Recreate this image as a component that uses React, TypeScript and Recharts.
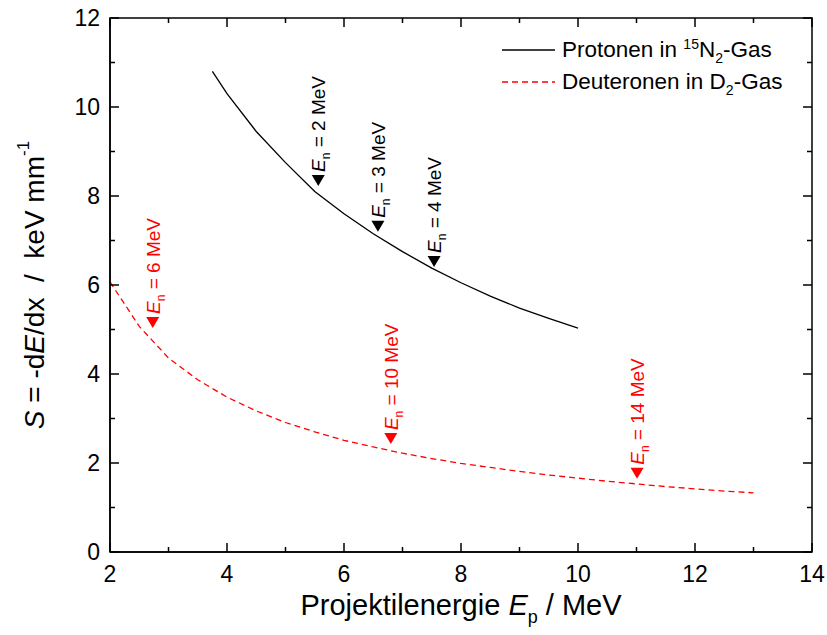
import React from 'react';
import { ComposedChart, Line, Scatter, XAxis, YAxis, ReferenceArea } from 'recharts';

const FONT = '"Liberation Sans", Arial, sans-serif';

// Protonen in 15N2-Gas
const protonEnergy = [3.75, 4, 4.5, 5, 5.5, 6, 6.5, 7, 7.5, 8, 8.5, 9, 9.5, 10];
const protonStopping = [10.8, 10.3, 9.45, 8.75, 8.1, 7.6, 7.15, 6.75, 6.38, 6.05, 5.75, 5.48, 5.25, 5.03];

// Deuteronen in D2-Gas
const deuteronEnergy = [2, 2.5, 3, 3.5, 4, 4.5, 5, 5.5, 6, 6.5, 7, 7.5, 8, 8.5, 9, 9.5, 10, 10.5, 11, 11.5, 12, 12.5, 13];
const deuteronStopping = [6.07, 5.07, 4.36, 3.87, 3.48, 3.17, 2.91, 2.7, 2.51, 2.36, 2.22, 2.1, 1.99, 1.9, 1.81, 1.73, 1.66, 1.59, 1.53, 1.47, 1.42, 1.37, 1.33];

// neutron energy markers
const protonMarkerE = [5.56, 6.58, 7.54];
const protonMarkerS = [8.36, 7.33, 6.54];
const protonMarkerLabels = ['2', '3', '4'];
const deuteronMarkerE = [2.73, 6.8, 11.01];
const deuteronMarkerS = [5.17, 2.56, 1.78];
const deuteronMarkerLabels = ['6', '10', '14'];

const xDomain = [2, 14];
const yDomain = [0, 12];
const xTicks = [2, 3, 4, 5, 6, 7, 8, 9, 10, 11, 12, 13, 14];
const yTicks = [0, 1, 2, 3, 4, 5, 6, 7, 8, 9, 10, 11, 12];

const protonData = protonEnergy.map((e, i) => ({ e, s: protonStopping[i] }));
const deuteronData = deuteronEnergy.map((e, i) => ({ e, s: deuteronStopping[i] }));
const protonMarkers = protonMarkerE.map((e, i) => ({ e, s: protonMarkerS[i], label: protonMarkerLabels[i] }));
const deuteronMarkers = deuteronMarkerE.map((e, i) => ({ e, s: deuteronMarkerS[i], label: deuteronMarkerLabels[i] }));

// tick positions on the top and right side of the box
const topTickPts = xTicks.map((e) => ({ e, s: yDomain[1], v: e }));
const rightTickPts = yTicks.map((s) => ({ e: xDomain[1], s, v: s }));

const RED = '#ff0000';

const tickLen = (v: number) => (v % 2 === 0 ? 9 : 5);

const TickMark = (props: any) => {
  const { cx, cy, payload, side } = props;
  const len = tickLen(payload.v);
  const d = side === 't' ? `M${cx},${cy}V${cy + len}` : `M${cx},${cy}H${cx - len}`;
  return <path d={d} stroke="#000" strokeWidth={1.5} fill="none" />;
};

const bottomTick = (props: any) => {
  const { x, y, payload } = props;
  const v = payload.value;
  return (
    <g>
      <path d={`M${x},${y}V${y - tickLen(v)}`} stroke="#000" strokeWidth={1.5} fill="none" />
      {v % 2 === 0 && (
        <text x={x} y={y + 30} textAnchor="middle" fontSize={23} fontFamily={FONT} fill="#000">
          {v}
        </text>
      )}
    </g>
  );
};

const leftTick = (props: any) => {
  const { x, y, payload } = props;
  const v = payload.value;
  return (
    <g>
      <path d={`M${x},${y}H${x + tickLen(v)}`} stroke="#000" strokeWidth={1.5} fill="none" />
      {v % 2 === 0 && (
        <text x={x - 10} y={y + 8} textAnchor="end" fontSize={23} fontFamily={FONT} fill="#000">
          {v}
        </text>
      )}
    </g>
  );
};

const Marker = (props: any) => {
  const { cx, cy, fill, payload } = props;
  const tx = cx + 7;
  const ty = cy - 8;
  return (
    <g>
      <polygon points={`${cx - 6.5},${cy - 5} ${cx + 6.5},${cy - 5} ${cx},${cy + 6}`} fill={fill} />
      <text x={tx} y={ty} transform={`rotate(-90 ${tx} ${ty})`} fill={fill} fontSize={19} fontFamily={FONT}>
        <tspan fontStyle="italic">E</tspan>
        <tspan fontSize={12} dy={5}>n</tspan>
        <tspan dy={-5} style={{ whiteSpace: 'pre' }}>{` = ${payload.label} MeV`}</tspan>
      </text>
    </g>
  );
};

const YLabel = () => (
  <text
    x={34}
    y={285}
    transform="rotate(-90 34 285)"
    textAnchor="middle"
    dominantBaseline="central"
    fontSize={28}
    fontFamily={FONT}
    fill="#000"
    style={{ whiteSpace: 'pre' }}
  >
    <tspan fontStyle="italic">S</tspan>
    <tspan> = -d</tspan>
    <tspan fontStyle="italic">E</tspan>
    <tspan>{'/dx  /  keV mm'}</tspan>
    <tspan fontSize={17} dy={-11}>-1</tspan>
  </text>
);

const XLabel = () => (
  <text x={461} y={615} textAnchor="middle" fontSize={29} fontFamily={FONT} fill="#000" style={{ whiteSpace: 'pre' }}>
    <tspan>Projektilenergie </tspan>
    <tspan fontStyle="italic">E</tspan>
    <tspan fontSize={18} dy={8}>p</tspan>
    <tspan dy={-8}> / MeV</tspan>
  </text>
);

const LegendBox = () => (
  <div
    style={{
      position: 'absolute',
      left: 500,
      top: 34,
      width: 320,
      fontFamily: FONT,
      fontSize: 22.5,
      color: '#000',
      lineHeight: '32px',
    }}
  >
    <div style={{ display: 'flex', alignItems: 'center', height: 32 }}>
      <svg width={62} height={10}>
        <line x1={2} x2={55} y1={5} y2={5} stroke="#000" strokeWidth={1.3} />
      </svg>
      <span>
        Protonen in <sup style={{ fontSize: 14, verticalAlign: 8, lineHeight: 0 }}>15</sup>N
        <sub style={{ fontSize: 14, verticalAlign: -6, lineHeight: 0 }}>2</sub>-Gas
      </span>
    </div>
    <div style={{ display: 'flex', alignItems: 'center', height: 32 }}>
      <svg width={62} height={10}>
        <line x1={2} x2={55} y1={5} y2={5} stroke={RED} strokeWidth={1.3} strokeDasharray="6 4" />
      </svg>
      <span>
        Deuteronen in D<sub style={{ fontSize: 14, verticalAlign: -6, lineHeight: 0 }}>2</sub>-Gas
      </span>
    </div>
  </div>
);

export default function App() {
  return (
    <div style={{ position: 'absolute', left: 0, top: 0, width: 827, height: 635, background: '#fff' }}>
      <ComposedChart width={827} height={635} margin={{ top: 18, right: 15, bottom: 23, left: 50 }}>
        <XAxis
          dataKey="e"
          type="number"
          domain={xDomain}
          ticks={xTicks}
          interval={0}
          tickSize={0}
          tickMargin={0}
          height={60}
          axisLine={{ stroke: '#000', strokeWidth: 1.5 }}
          tickLine={false}
          tick={bottomTick}
          label={<XLabel />}
        />
        <YAxis
          dataKey="s"
          type="number"
          domain={yDomain}
          ticks={yTicks}
          interval={0}
          tickSize={0}
          tickMargin={0}
          width={60}
          axisLine={{ stroke: '#000', strokeWidth: 1.5 }}
          tickLine={false}
          tick={leftTick}
          label={<YLabel />}
        />
        <ReferenceArea
          x1={xDomain[0]}
          x2={xDomain[1]}
          y1={yDomain[0]}
          y2={yDomain[1]}
          fill="none"
          fillOpacity={0}
          stroke="#000"
          strokeWidth={1.5}
          ifOverflow="visible"
        />
        <Scatter data={topTickPts} dataKey="s" shape={<TickMark side="t" />} isAnimationActive={false} />
        <Scatter data={rightTickPts} dataKey="s" shape={<TickMark side="r" />} isAnimationActive={false} />
        <Line
          data={protonData}
          dataKey="s"
          type="linear"
          stroke="#000"
          strokeWidth={1.3}
          dot={false}
          isAnimationActive={false}
        />
        <Line
          data={deuteronData}
          dataKey="s"
          type="linear"
          stroke={RED}
          strokeWidth={1.3}
          strokeDasharray="6 4"
          dot={false}
          isAnimationActive={false}
        />
        <Scatter data={protonMarkers} dataKey="s" fill="#000" shape={<Marker />} isAnimationActive={false} />
        <Scatter data={deuteronMarkers} dataKey="s" fill={RED} shape={<Marker />} isAnimationActive={false} />
      </ComposedChart>
      <LegendBox />
    </div>
  );
}
